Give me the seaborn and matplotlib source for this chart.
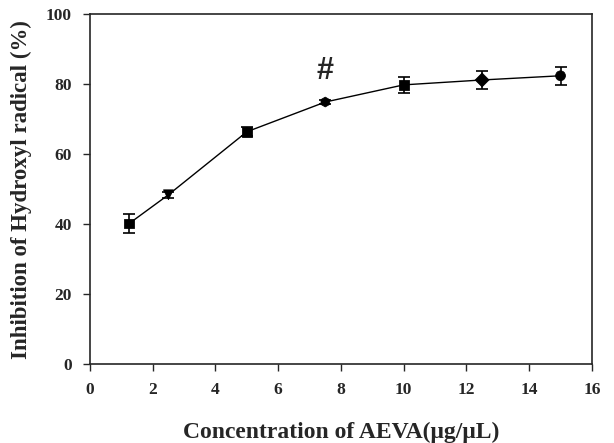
import pandas as pd
import seaborn as sns
import matplotlib.pyplot as plt

# values
conc = [1.25, 2.5, 5, 7.5, 10, 12.5, 15]
inhibition = [40.2, 48.4, 66.4, 74.9, 79.8, 81.2, 82.4]
sd = [2.6, 0.9, 1.3, 0.6, 2.3, 2.7, 2.5]
shapes = ['s', 'v', 's', 'h', 's', 'D', 'o']

df = pd.DataFrame({'conc': conc, 'inh': inhibition, 'sd': sd,
                   'pt': [str(i) for i in range(len(conc))]})

sns.set_style('ticks')
plt.rcParams['font.family'] = ['Liberation Serif', 'DejaVu Serif']
plt.rcParams['font.weight'] = 'bold'

fig = plt.figure(figsize=(6.14, 4.43), dpi=100)
ax = fig.add_axes([0.1466, 0.178, 0.8174, 0.79])

sns.lineplot(data=df, x='conc', y='inh', color='black', lw=1, ax=ax)
ax.errorbar(df['conc'], df['inh'], yerr=df['sd'], fmt='none', ecolor='black',
            elinewidth=1.2, capsize=4.5, capthick=1.2)
sns.scatterplot(data=df, x='conc', y='inh', style='pt',
                markers=dict(zip(df['pt'], shapes)), color='black',
                s=50, edgecolor='black', legend=False, ax=ax, zorder=5)

ax.text(7.5, 79.5, '#', fontsize=22, ha='center', va='bottom', fontweight='bold',
        family=['Liberation Sans', 'DejaVu Sans'])

ax.set_xlim(0, 16)
ax.set_ylim(0, 100)
ax.set_xticks(range(0, 17, 2))
ax.set_yticks(range(0, 101, 20))
ax.tick_params(labelsize=12.5, width=1, length=5, pad=8)
for lab in ax.get_xticklabels() + ax.get_yticklabels():
    lab.set_fontweight('bold')
for sp in ax.spines.values():
    sp.set_visible(True)
    sp.set_linewidth(1.2)

ax.set_xlabel('Concentration of AEVA(\u03bcg/\u03bcL)', fontsize=17, fontweight='bold', labelpad=17)
ax.set_ylabel('Inhibition of Hydroxyl radical (%)', fontsize=16.5, fontweight='bold', labelpad=10)

fig.savefig('out.png', dpi=100)
